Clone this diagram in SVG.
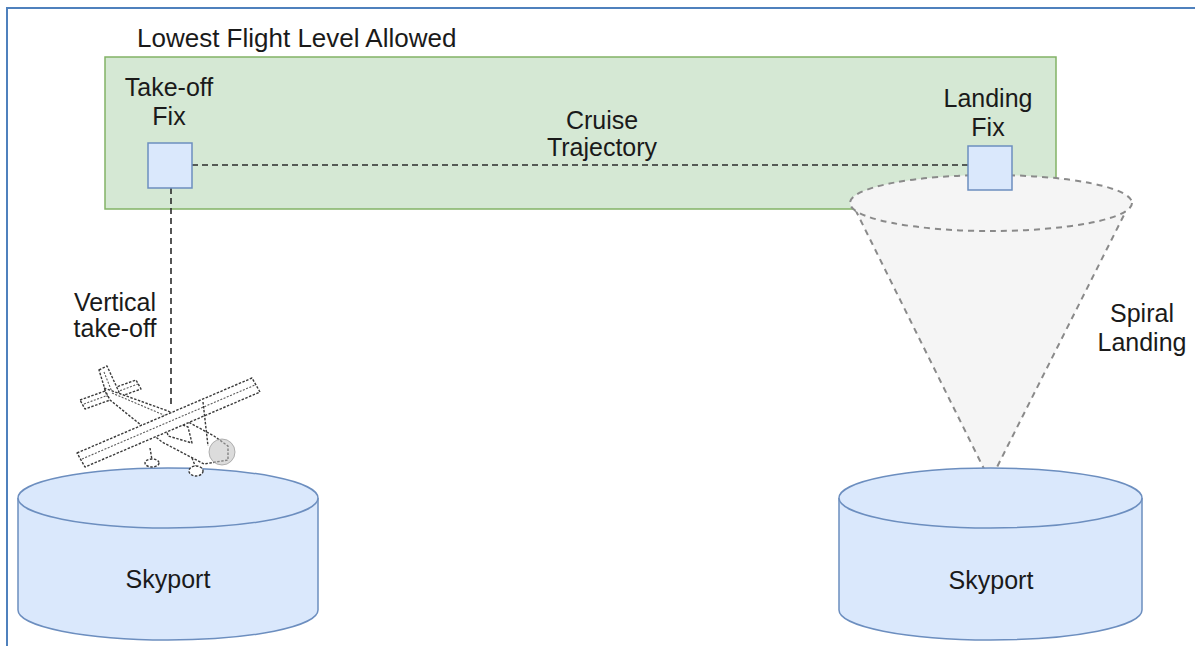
<svg xmlns="http://www.w3.org/2000/svg" width="1195" height="646" viewBox="0 0 1195 646">
  <style>
    .lbl { font-family: "Liberation Sans", Arial, Helvetica, sans-serif; font-size: 25px; fill: #1a1a1a; }
    .mid { text-anchor: middle; }
    .fix { fill: #dae8fc; stroke: #6c8ebf; stroke-width: 1.5; }
    .cyl { fill: #dae8fc; stroke: #6c8ebf; stroke-width: 1.5; }
    .path { fill: none; stroke: #2b2b2b; stroke-width: 1.6; stroke-dasharray: 6 4; }
    .cone { fill: #f5f5f5; stroke: #8a8a8a; stroke-width: 2; stroke-dasharray: 6 5; }
    .plane { fill: #ffffff; stroke: #3a3a3a; stroke-width: 1.4; stroke-dasharray: 2.5 1.5; stroke-linejoin: round; }
    .detail { fill: none; stroke: #5a5a5a; stroke-width: 1.1; stroke-dasharray: 2 1.5; }
  </style>

  <!-- page frame -->
  <rect id="frame" x="7" y="8" width="1250" height="700" fill="#ffffff" stroke="#4f81bd" stroke-width="2"/>

  <!-- cruise altitude band -->
  <g id="flight-level">
    <rect x="105" y="57" width="951" height="152" fill="#d5e8d4" stroke="#82b366" stroke-width="1.5"/>
    <text class="lbl" x="137" y="47" style="font-size:26px">Lowest Flight Level Allowed</text>
  </g>

  <!-- spiral descent cone -->
  <g id="spiral-landing">
    <polygon class="cone" points="856,211 1126,211 990,481"/>
    <ellipse class="cone" cx="991" cy="203" rx="141" ry="28"/>
    <text class="lbl mid" x="1142" y="322">Spiral</text>
    <text class="lbl mid" x="1142" y="351">Landing</text>
  </g>

  <!-- trajectories -->
  <g id="connectors">
    <line class="path" x1="192" y1="165" x2="968" y2="165"/>
    <line class="path" x1="171" y1="188" x2="171" y2="404"/>
  </g>

  <g id="takeoff-fix">
    <rect class="fix" x="148" y="143" width="44" height="45"/>
    <text class="lbl mid" x="169" y="96">Take-off</text>
    <text class="lbl mid" x="169" y="125">Fix</text>
  </g>

  <g id="landing-fix">
    <rect class="fix" x="968" y="146" width="44" height="44"/>
    <text class="lbl mid" x="988" y="107">Landing</text>
    <text class="lbl mid" x="988" y="136">Fix</text>
  </g>

  <g id="cruise-label">
    <text class="lbl mid" x="602" y="129">Cruise</text>
    <text class="lbl mid" x="602" y="156">Trajectory</text>
  </g>

  <g id="vertical-label">
    <text class="lbl mid" x="115" y="311">Vertical</text>
    <text class="lbl mid" x="115" y="337">take-off</text>
  </g>

  <!-- skyports -->
  <g id="skyport-departure">
    <path class="cyl" d="M18,498 A150,30 0 0 1 318,498 L318,610 A150,30 0 0 1 18,610 Z"/>
    <path class="cyl" fill="none" d="M18,498 A150,30 0 0 0 318,498"/>
    <text class="lbl mid" x="168" y="588">Skyport</text>
  </g>

  <g id="skyport-arrival">
    <path class="cyl" d="M839,498 A151.5,30 0 0 1 1142,498 L1142,610 A151.5,30 0 0 1 839,610 Z"/>
    <path class="cyl" fill="none" d="M839,498 A151.5,30 0 0 0 1142,498"/>
    <text class="lbl mid" x="991" y="589">Skyport</text>
  </g>

  <!-- aircraft lifting off -->
  <g id="aircraft">
    <!-- horizontal stabiliser -->
    <polygon class="plane" points="80,400 136,380 141,389 85,409"/>
    <line class="detail" x1="84" y1="404" x2="138" y2="384"/>
    <!-- fin -->
    <polygon class="plane" points="99,370 107,366 119,392 107,396"/>
    <line class="detail" x1="104" y1="372" x2="112" y2="392"/>
    <!-- fuselage -->
    <polygon class="plane" points="104,388 168,411 214,436 228,446 228,460 204,464 162,442 110,400"/>
    <line class="detail" x1="112" y1="393" x2="166" y2="416"/>
    <!-- cabin -->
    <polygon class="plane" points="164,418 188,427 192,443 168,436"/>
    <!-- wing -->
    <polygon class="plane" points="77,453 252,378 260,392 85,467"/>
    <line class="detail" x1="82" y1="459" x2="255" y2="385"/>
    <!-- struts -->
    <line class="plane" x1="203" y1="402" x2="208" y2="446"/>
    <line class="plane" x1="150" y1="448" x2="152" y2="460"/>
    <line class="plane" x1="192" y1="458" x2="196" y2="468"/>
    <!-- wheels -->
    <ellipse class="plane" cx="152" cy="463" rx="7" ry="4"/>
    <ellipse class="plane" cx="196" cy="471" rx="7" ry="5"/>
    <!-- propeller disc -->
    <circle cx="222" cy="452" r="13" fill="#bfbfbf" fill-opacity="0.55" stroke="#a0a0a0" stroke-width="0.8"/>
  </g>
</svg>
